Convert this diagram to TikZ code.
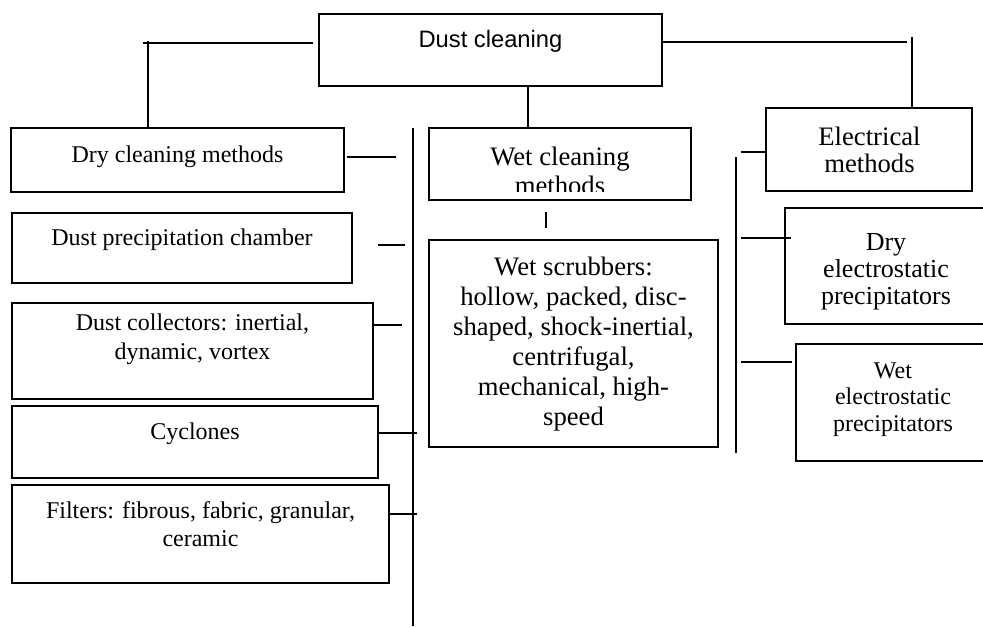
\documentclass[tikz,border=0pt]{standalone}
\usepackage{fontspec}
\setmainfont{Liberation Serif}
\newfontfamily\arialf{Liberation Sans}
\usetikzlibrary{calc}
\newcommand\boxnode[5]{\node[bx, minimum width={(#4-#2)*0.75pt}, minimum height={(#5-#3)*0.75pt}] (#1) at ({(#2+#4)/2},{(#3+#5)/2}) {};}
\newcommand\mlines[1]{\begin{tabular}[t]{@{}c@{}}#1\end{tabular}}
\begin{document}
\begin{tikzpicture}[x=0.75pt, y=-0.75pt,
  bx/.style={draw, line width=1.2pt, inner sep=0pt, outer sep=0pt},
  ln/.style={line width=1.2pt},
  tx/.style={inner sep=0pt, anchor=base}]
\useasboundingbox (0,0) rectangle (983,626);
\clip (0,0) rectangle (983,626);

% boxes
\boxnode{dc}{319}{14}{662}{86}
\boxnode{dry}{11}{128}{344}{192}
\boxnode{dpc}{12}{213}{352}{283}
\boxnode{dcol}{12}{303}{373}{399}
\boxnode{cyc}{12}{406}{378}{478}
\boxnode{fil}{12}{485}{389}{583}
\boxnode{wcm}{429}{128}{691}{200}
\boxnode{ws}{429}{240}{718}{447}
\boxnode{em}{766}{108}{972}{191}
\boxnode{des}{785}{208}{1000}{324}
\boxnode{wes}{796}{344}{1000}{461}

% texts
\node[tx, font=\arialf\fontsize{17.8}{20}\selectfont] (tdc) at (490.5,47) {Dust cleaning};
\node[tx, font=\fontsize{18}{21.75}\selectfont] (tdry) at (177.5,162) {Dry cleaning methods};
\node[tx, font=\fontsize{18}{21.75}\selectfont] (tdpc) at (182,245) {Dust precipitation chamber};
\node[tx, font=\fontsize{18}{21.75}\selectfont] (tdcol) at (192.5,330) {\mlines{Dust collectors: inertial,\\dynamic, vortex}};
\node[tx, font=\fontsize{18}{21.75}\selectfont] (tcyc) at (195,439) {Cyclones};
\node[tx, font=\fontsize{18}{21}\selectfont] (tfil) at (200.5,518) {\mlines{Filters: fibrous, fabric, granular,\\ceramic}};
\begin{scope}
  \clip (429,128) rectangle (691,191);
  \node[tx, font=\fontsize{20}{22}\selectfont] (twcm) at (560,165) {\mlines{Wet cleaning\\methods}};
\end{scope}
\node[tx, font=\fontsize{20}{22.5}\selectfont] (tws) at (573.5,275) {\mlines{Wet scrubbers:\\hollow, packed, disc-\\shaped, shock-inertial,\\centrifugal,\\mechanical, high-\\speed}};
\node[tx, font=\fontsize{20}{20.5}\selectfont] (tem) at (869.5,145) {\mlines{Electrical\\methods}};
\node[tx, font=\fontsize{19.5}{20.6}\selectfont] (tdes) at (886,250) {\mlines{Dry\\electrostatic\\precipitators}};
\node[tx, font=\fontsize{18}{19.9}\selectfont] (twes) at (893,378) {\mlines{Wet\\electrostatic\\precipitators}};

% free-end coordinates
\coordinate (lt) at (143,43);
\coordinate (lv) at (148,41);
\coordinate (rt) at (907,42);
\coordinate (rv) at (912,37);
\coordinate (tickA) at (546,212);
\coordinate (tickB) at (546,228);
\coordinate (mainTop) at (413,128);
\coordinate (mainBot) at (413,626);
\coordinate (dryE) at (396,157);
\coordinate (dpcA) at (378,245);
\coordinate (dpcB) at (405,245);
\coordinate (dcolE) at (402,325);
\coordinate (cycE) at (417,433);
\coordinate (filE) at (417,514);
\coordinate (elTop) at (736,157);
\coordinate (elBot) at (736,453);
\coordinate (emW) at (741,152);
\coordinate (desW) at (741,238);
\coordinate (desE) at (791,238);
\coordinate (wesW) at (741,362);
\coordinate (wesE) at (792,362);

% connectors
\draw[ln] ([xshift=-4.5pt]dc.west |- lt) -- (lt);
\draw[ln] (lv) -- (dry.north -| lv);
\draw[ln] (dc.east |- rt) -- (rt);
\draw[ln] (rv) -- (em.north -| rv);
\draw[ln] (dc.south -| 528,0) -- (wcm.north -| 528,0);
\draw[ln] (tickA) -- (tickB);
\draw[ln] (mainTop) -- (mainBot);
\draw[ln] ([xshift=2pt]dry.east |- dryE) -- (dryE);
\draw[ln] (dpcA) -- (dpcB);
\draw[ln] (dcol.east |- dcolE) -- (dcolE);
\draw[ln] (cyc.east |- cycE) -- (cycE);
\draw[ln] (fil.east |- filE) -- (filE);
\draw[ln] (elTop) -- (elBot);
\draw[ln] (emW) -- (em.west |- emW);
\draw[ln] (desW) -- (desE);
\draw[ln] (wesW) -- (wesE);
\end{tikzpicture}
\end{document}
